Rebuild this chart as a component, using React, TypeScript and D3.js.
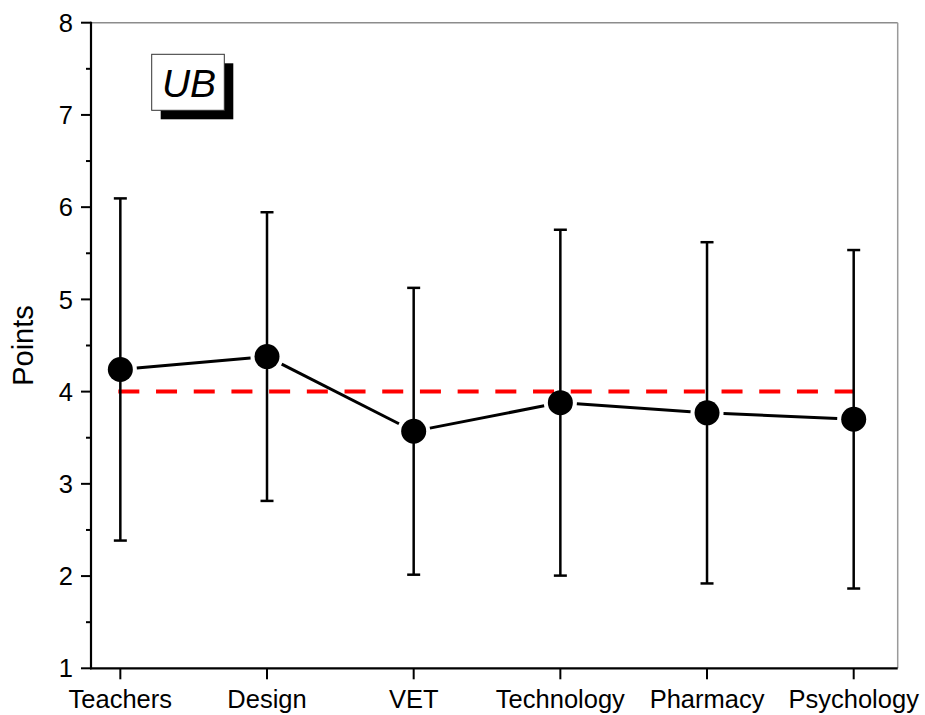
import React from "react";
import * as d3 from "d3";

// Groups along the x axis
const categories = ["Teachers", "Design", "VET", "Technology", "Pharmacy", "Psychology"];
// Mean points per group
const means = [4.24, 4.38, 3.57, 3.88, 3.77, 3.7];
// Standard deviations (symmetric error bars)
const sds = [1.855, 1.565, 1.555, 1.875, 1.85, 1.835];
// Reference level drawn as a dashed line
const referenceLevel = 4;
// Y axis ticks
const yMajorTicks = [1, 2, 3, 4, 5, 6, 7, 8];
const yMinorTicks = [1.5, 2.5, 3.5, 4.5, 5.5, 6.5, 7.5];
const panelLabel = "UB";
const yTitle = "Points";

const W = 925;
const H = 715;
const FONT = "Arial, 'Liberation Sans', Helvetica, sans-serif";

export default function App() {
  const x = d3.scaleLinear().domain([0.8, 6.3]).range([91, 897.7]);
  const y = d3.scaleLinear().domain([1, 8]).range([668.3, 22.7]);
  const [x0, x1] = x.range();
  const [yb, yt] = y.range();

  const r = 12.5;
  const gap = r + 4;
  const pts = means.map((m, i) => ({ px: x(i + 1), py: y(m) }));

  const segments = pts.slice(1).map((p, i) => {
    const a = pts[i];
    const dx = p.px - a.px;
    const dy = p.py - a.py;
    const len = Math.hypot(dx, dy);
    const ux = dx / len;
    const uy = dy / len;
    return {
      x1: a.px + ux * gap,
      y1: a.py + uy * gap,
      x2: p.px - ux * gap,
      y2: p.py - uy * gap,
    };
  });

  const capHalf = 6.5;

  return (
    <svg
      width={W}
      height={H}
      style={{ position: "absolute", left: 0, top: 0, background: "#fff" }}
      fontFamily={FONT}
    >
      <rect x={0} y={0} width={W} height={H} fill="#fff" />

      {/* frame: top and right edges in grey */}
      <line x1={x0} x2={x1} y1={yt} y2={yt} stroke="#8c8c8c" strokeWidth={1.5} />
      <line x1={x1} x2={x1} y1={yt} y2={yb} stroke="#9a9a9a" strokeWidth={1.5} />

      {/* reference line */}
      <line
        x1={x(1) - 2}
        x2={x(categories.length)}
        y1={y(referenceLevel)}
        y2={y(referenceLevel)}
        stroke="#ff0000"
        strokeWidth={4}
        strokeDasharray="21 16.7"
      />

      {/* error bars */}
      {means.map((m, i) => {
        const cx = x(i + 1);
        const top = y(m + sds[i]);
        const bot = y(m - sds[i]);
        return (
          <g key={`eb-${i}`} stroke="#000" strokeWidth={2.5}>
            <line x1={cx} x2={cx} y1={top} y2={bot} />
            <line x1={cx - capHalf} x2={cx + capHalf} y1={top} y2={top} />
            <line x1={cx - capHalf} x2={cx + capHalf} y1={bot} y2={bot} />
          </g>
        );
      })}

      {/* connecting line */}
      {segments.map((s, i) => (
        <line key={`seg-${i}`} {...s} stroke="#000" strokeWidth={3} />
      ))}

      {/* mean markers */}
      {pts.map((p, i) => (
        <circle key={`pt-${i}`} cx={p.px} cy={p.py} r={r} fill="#000" />
      ))}

      {/* left axis */}
      <line x1={x0} x2={x0} y1={yt - 1} y2={yb + 1} stroke="#000" strokeWidth={2.2} />
      {yMajorTicks.map((t) => (
        <g key={`yt-${t}`}>
          <line x1={x0 - 10} x2={x0} y1={y(t)} y2={y(t)} stroke="#000" strokeWidth={2} />
          <text
            x={73}
            y={y(t)}
            dy="0.36em"
            textAnchor="end"
            fontSize={25.5}
            fill="#000"
          >
            {t}
          </text>
        </g>
      ))}
      {yMinorTicks.map((t) => (
        <line key={`ym-${t}`} x1={x0 - 5} x2={x0} y1={y(t)} y2={y(t)} stroke="#000" strokeWidth={2} />
      ))}

      {/* bottom axis */}
      <line x1={x0 - 1} x2={x1} y1={yb} y2={yb} stroke="#000" strokeWidth={2.2} />
      {categories.map((c, i) => (
        <g key={`xt-${c}`}>
          <line x1={x(i + 1)} x2={x(i + 1)} y1={yb} y2={yb + 11} stroke="#000" strokeWidth={2} />
          <text x={x(i + 1)} y={708} textAnchor="middle" fontSize={25.5} fill="#000">
            {c}
          </text>
        </g>
      ))}

      {/* y title */}
      <text
        transform={`translate(33, ${(yt + yb) / 2}) rotate(-90)`}
        textAnchor="middle"
        fontSize={29}
        fill="#000"
      >
        {yTitle}
      </text>

      {/* panel label with drop shadow */}
      <rect x={160.7} y={63.3} width={72.6} height={56} fill="#000" />
      <rect x={151.7} y={54.3} width={72.6} height={56} fill="#fff" stroke="#333" strokeWidth={1} />
      <text x={189} y={97} textAnchor="middle" fontSize={39} fontStyle="italic" fill="#000">
        {panelLabel}
      </text>
    </svg>
  );
}
